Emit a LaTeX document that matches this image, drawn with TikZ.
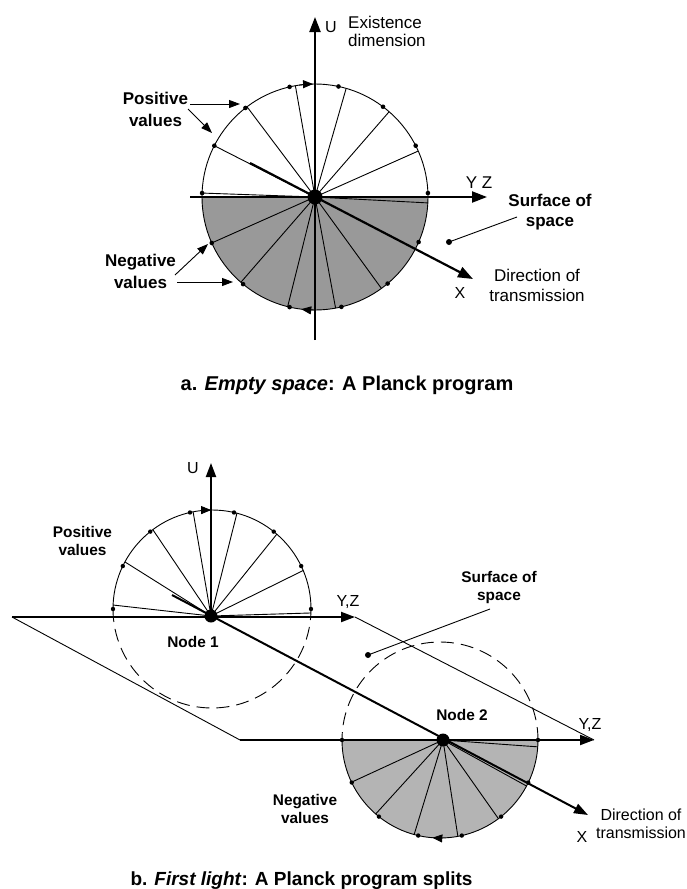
\documentclass[tikz,border=0pt]{standalone}
\usepackage{fontspec}
\setmainfont{Liberation Sans}
\usetikzlibrary{arrows.meta,calc}
\definecolor{topgray}{RGB}{153,153,153}
\definecolor{botgray}{RGB}{180,180,180}
\begin{document}
\begin{tikzpicture}[x=1pt,y=-1pt,
  thinl/.style={line width=0.9pt},
  axisl/.style={line width=2.2pt,-{Triangle[length=15pt,width=11pt]}},
  axisb/.style={line width=2pt,-{Triangle[length=14pt,width=10pt]}},
  labarrow/.style={line width=0.9pt,-{Triangle[length=11pt,width=8pt]}},
  rotarrow/.style={line width=0.9pt,-{Triangle[length=10pt,width=8pt]}},
  bigdot/.style={circle,fill=black,inner sep=0pt,minimum size=15pt},
  bigdotb/.style={circle,fill=black,inner sep=0pt,minimum size=13pt},
  smalldot/.style={circle,fill=black,inner sep=0pt,minimum size=6pt},
  dashc/.style={line width=0.9pt,dash pattern=on 13pt off 7pt},
  lbl/.style={font=\fontsize{17}{20}\selectfont,inner sep=0pt,align=center},
  blbl/.style={font=\bfseries\fontsize{17}{22}\selectfont,inner sep=0pt,align=center},
  slbl/.style={font=\fontsize{16}{18}\selectfont,inner sep=0pt,align=center},
  sblbl/.style={font=\bfseries\fontsize{15.4}{18}\selectfont,inner sep=0pt,align=center},
  capt/.style={font=\bfseries\fontsize{20}{24}\selectfont,inner sep=0pt}
]
\useasboundingbox (0,0) rectangle (687,889);

% ================= TOP DIAGRAM =================
\coordinate (c1) at (315,197);
\fill[topgray] ([shift={(180:113pt)}]c1) arc[start angle=180,end angle=360,radius=113pt] -- cycle;
\foreach \a in {178,153,127,100,74,49,24,204,229,256,280.5,306,357}
  \draw[thinl] (c1) -- ([shift={(\a:113pt)}]c1);
\draw[thinl] (c1) circle[radius=113pt];
\foreach \a in {2,27,53,78,103,128,153,178,204,230.5,257,283.5,310,336.5}
  \fill ([shift={(\a:113pt)}]c1) circle[radius=2.3pt];

\coordinate (yzs1) at (190,197);
\coordinate (yzt1) at (487,197);
\coordinate (us1) at (315,340);
\coordinate (ut1) at (315,17);
\coordinate (xs1) at (250,163);
\coordinate (xt1) at (473,279);
\draw[axisl] (yzs1) -- (yzt1);
\draw[axisl] (us1) -- (ut1);
\draw[axisl] (xs1) -- (xt1);

\draw[rotarrow] ([shift={(98:113pt)}]c1) arc[start angle=98,end angle=91,radius=113pt];
\draw[rotarrow] ([shift={(270:113pt)}]c1) arc[start angle=270,end angle=263,radius=113pt];

\node[bigdot] (o1) at (c1) {};

% labels top
\node[lbl,font=\fontsize{16}{18}\selectfont] (ulab1) at (331,27) {U};
\node[lbl,align=left,anchor=west,font=\fontsize{17}{18}\selectfont] (exist) at (348,31) {Existence\\dimension};
\node[lbl] (yzlab1) at (479,183) {Y Z};
\node[lbl,font=\fontsize{16}{18}\selectfont] (xlab1) at (460,293) {X};
\node[lbl] (dir1) at (537,285) {Direction of\\transmission};
\node[blbl,font=\bfseries\fontsize{17}{20}\selectfont] (surf1) at (550,212) {Surface of\\space};
\node[blbl] (pos1) at (155.5,109) {Positive\\values};
\node[blbl] (neg1) at (140.5,271) {Negative\\values};

\node[smalldot] (sd1) at (449,242) {};
\coordinate (sp1) at (517,217);
\draw[thinl] (sd1.center) -- (sp1);

\coordinate (pa1s) at (190,104); \coordinate (pa1t) at (240,104);
\coordinate (pa2s) at (188,109); \coordinate (pa2t) at (212,133);
\coordinate (na1s) at (175,275); \coordinate (na1t) at (208,244);
\coordinate (na2s) at (177,282); \coordinate (na2t) at (233,282);
\draw[labarrow] (pa1s) -- (pa1t);
\draw[labarrow] (pa2s) -- (pa2t);
\draw[labarrow] (na1s) -- (na1t);
\draw[labarrow] (na2s) -- (na2t);

\node[capt,anchor=base] (capa) at (347,390) {a. \textit{Empty space}: A Planck program};

% ================= BOTTOM DIAGRAM =================
\coordinate (cc1) at (212,609);
\coordinate (m1) at (211,616);
\coordinate (cc2) at (440,740);
\coordinate (m2) at (443,740);

% node 2 gray half
\fill[botgray] ([shift={(180:98pt)}]cc2) arc[start angle=180,end angle=360,radius=98pt] -- cycle;

% plane
\coordinate (pl) at (12,617);
\coordinate (pb) at (240,740);
\coordinate (yzt2) at (355,617);
\coordinate (yzt3) at (594,740);
\draw[thinl] (pl) -- (pb);
\draw[thinl] (yzt2) -- (yzt3);

% circle 1
\draw[thinl] ([shift={(0:99pt)}]cc1) arc[start angle=0,end angle=180,radius=99pt];
\draw[dashc] ([shift={(180:99pt)}]cc1) arc[start angle=180,end angle=360,radius=99pt];
\foreach \a in {177.7,151.6,126.7,101,75.4,49.1,22.9,-2.3}
  \draw[thinl] (m1) -- ([shift={(\a:99pt)}]cc1);
\foreach \a in {0,25.714,51.429,77.143,102.857,128.571,154.286,180}
  \fill ([shift={(\a:99pt)}]cc1) circle[radius=2.2pt];

% circle 2
\draw[thinl] ([shift={(180:98pt)}]cc2) arc[start angle=180,end angle=360,radius=98pt];
\draw[dashc] ([shift={(0:98pt)}]cc2) arc[start angle=0,end angle=180,radius=98pt];
\foreach \a in {205.5,229,254.7,280.5,306.6,332,356}
  \draw[thinl] (m2) -- ([shift={(\a:98pt)}]cc2);
\foreach \a in {180,205.714,231.429,257.143,282.857,308.571,334.286,360}
  \fill ([shift={(\a:98pt)}]cc2) circle[radius=2.2pt];

% axes
\coordinate (ut2) at (211,463);
\coordinate (xs2) at (172,595);
\coordinate (xt2) at (588,815);
\draw[axisb] (pl) -- (yzt2);
\draw[axisb] (m1) -- (ut2);
\draw[axisb] (pb) -- (yzt3);
\draw[axisb] (xs2) -- (xt2);

\draw[rotarrow] ([shift={(96:99pt)}]cc1) arc[start angle=96,end angle=90.5,radius=99pt];
\draw[rotarrow] ([shift={(271:98pt)}]cc2) arc[start angle=271,end angle=265.5,radius=98pt];

\node[bigdotb] (n1) at (m1) {};
\node[bigdotb] (n2) at (m2) {};

% labels bottom
\node[slbl] (ulab2) at (193,468) {U};
\node[slbl] (yzlab2) at (348,602) {Y,Z};
\node[slbl] (yzlab3) at (590,725) {Y,Z};
\node[slbl] (xlab2) at (582,837) {X};
\node[sblbl] (node1lab) at (193,642) {Node 1};
\node[sblbl] (node2lab) at (462,715) {Node 2};
\node[sblbl] (pos2) at (82.5,541) {Positive\\values};
\node[sblbl] (neg2) at (305,809) {Negative\\values};
\node[sblbl] (surf2) at (499,588) {Surface of\\space};
\node[slbl] (dir2) at (641,824) {Direction of\\transmission};

\node[smalldot] (sd2) at (368,655) {};
\coordinate (sp2) at (490,609);
\draw[thinl] (sd2.center) -- (sp2);

\node[capt,font=\bfseries\fontsize{19}{22}\selectfont,anchor=base] (capb) at (301.5,885) {b. \textit{First light}: A Planck program splits};
\end{tikzpicture}
\end{document}
